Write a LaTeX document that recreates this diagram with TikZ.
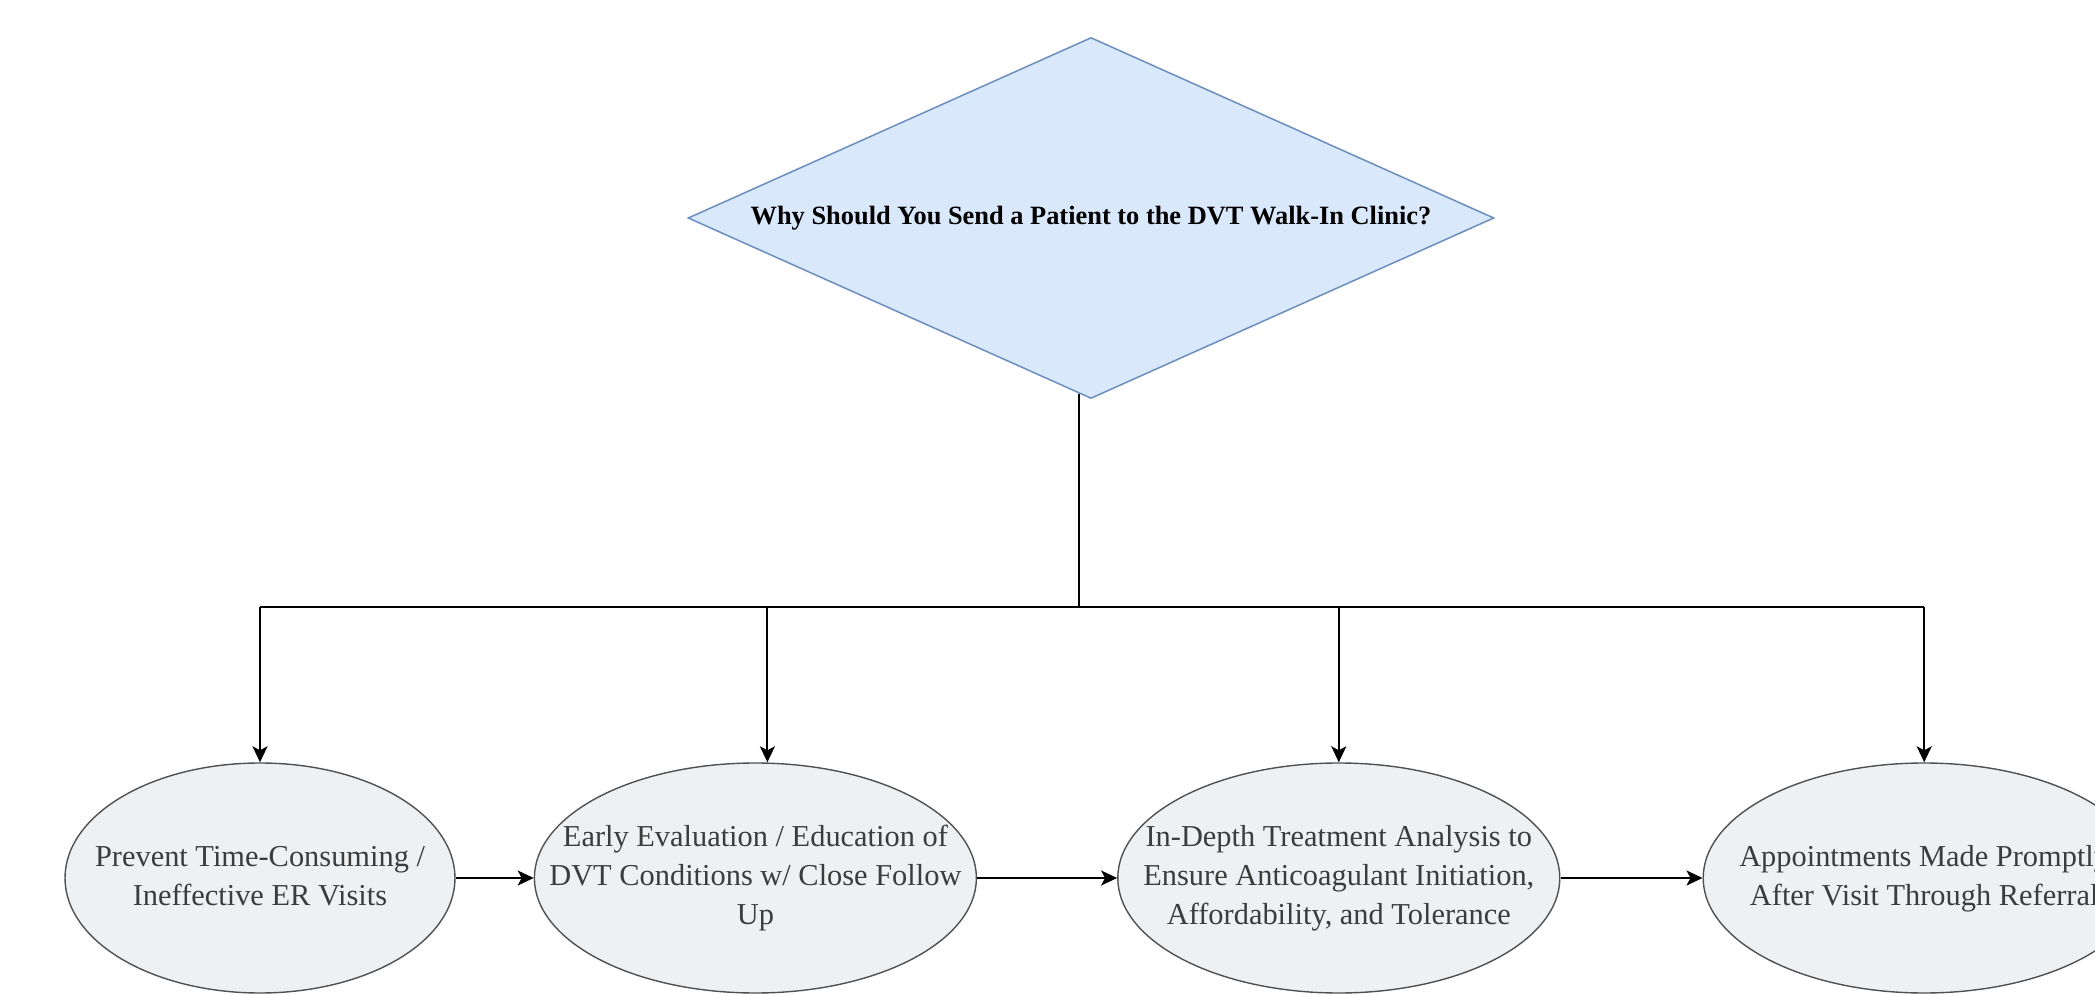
\documentclass[tikz,border=0pt]{standalone}
\usepackage{fontspec}
\setmainfont{Liberation Serif}
\usepackage{tikz}
\usetikzlibrary{positioning}
\usetikzlibrary{shapes.geometric}
\usetikzlibrary{arrows.meta}

\definecolor{qfill}{HTML}{DAE8FC}
\definecolor{qline}{HTML}{6C8EBF}
\definecolor{efill}{RGB}{238,241,243}
\definecolor{eline}{RGB}{80,80,80}
\definecolor{etext}{RGB}{60,60,60}
\newcommand{\lines}[1]{\makebox[0pt]{\begin{tabular}{@{}c@{}}#1\end{tabular}}}

\tikzset{
  question/.style={diamond, aspect=2.23, draw=qline, fill=qfill, line width=.75pt,
    minimum width=403pt, minimum height=180.5pt, inner sep=0pt,
    font=\bfseries\fontsize{13.2}{16}\selectfont},
  reason/.style={ellipse, draw=eline, fill=efill, line width=.7pt, minimum height=115pt,
    minimum width=221pt, inner sep=0pt, text=etext, font=\fontsize{15.2}{19.5}\selectfont},
  arr/.style={-{Stealth[length=8pt, width=7.5pt, inset=2pt]}, line width=1pt}
}

\begin{document}
\begin{tikzpicture}[x=.5pt, y=-.5pt]
    \useasboundingbox (0, 0) rectangle (2095, 994);
    \clip (0, 0) rectangle (2095, 994);

    \node[question] (q) at (1091, 218) {Why Should You Send a Patient to the DVT Walk-In Clinic?};

    \node[reason, minimum width=195pt] (e1) at (260, 878) {\lines{Prevent Time-Consuming /\\Ineffective ER Visits}};
    \node[reason, right=39pt of e1] (e2) {\lines{Early Evaluation / Education of\\DVT Conditions w/ Close Follow\\Up}};
    \node[reason, right=70pt of e2] (e3) {\lines{In-Depth Treatment Analysis to\\Ensure Anticoagulant Initiation,\\Affordability, and Tolerance}};
    \node[reason, right=71pt of e3] (e4) {\lines{Appointments Made Promptly\\After Visit Through Referral}};

    \coordinate (bus) at (1078, 607);
    \coordinate (t2) at ([xshift=6pt]e2.north);

    \draw[line width=1pt] (q.266) -- (q.266 |- bus);
    \draw[line width=1pt] (e1.north |- bus) -- (e4.north |- bus);
    \draw[arr] (e1.north |- bus) -- (e1.north);
    \draw[arr] (t2 |- bus) -- (t2);
    \draw[arr] (e3.north |- bus) -- (e3.north);
    \draw[arr] (e4.north |- bus) -- (e4.north);

    \draw[arr] (e1) -- (e2);
    \draw[arr] (e2) -- (e3);
    \draw[arr] (e3) -- (e4);
\end{tikzpicture}
\end{document}
